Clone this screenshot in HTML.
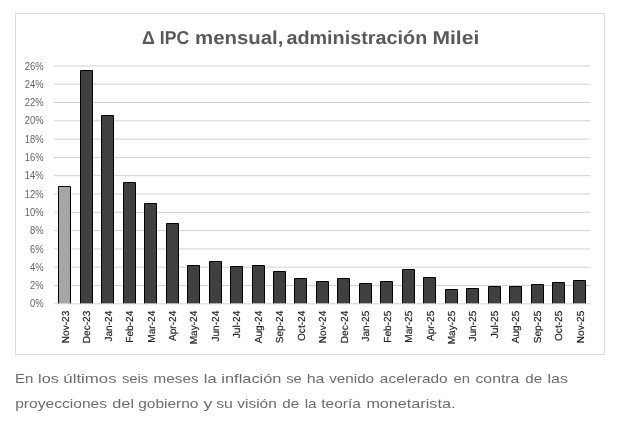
<!DOCTYPE html>
<html lang="es"><head><meta charset="utf-8"><title>IPC mensual</title>
<style>
html,body{margin:0;padding:0;background:#fff;}
body{width:618px;height:422px;position:relative;overflow:hidden;font-family:"Liberation Sans",sans-serif;}
.ax{font-family:"Liberation Sans",sans-serif;font-size:10px;fill:#636363;}
.cat{font-family:"Liberation Sans",sans-serif;font-size:10.2px;fill:#222;stroke:#222;stroke-width:0.15px;text-rendering:geometricPrecision;}
.title{font-family:"Liberation Sans",sans-serif;font-size:18.7px;font-weight:bold;fill:#595959;text-rendering:geometricPrecision;}
.cap{font-family:"Liberation Sans",sans-serif;font-size:13.5px;fill:#6c6c6c;}
</style></head><body>
<svg width="618" height="422" viewBox="0 0 618 422" style="position:absolute;left:0;top:0">
<rect x="15.5" y="13.5" width="589" height="341" fill="#fff" stroke="#d9d9d9" stroke-width="1"/>
<line x1="54.0" x2="590.5" y1="303.80" y2="303.80" stroke="#d2d2d2" stroke-width="1"/>
<text transform="translate(43.5,307.40) scale(0.94,1)" text-anchor="end" class="ax">0%</text>
<line x1="54.0" x2="590.5" y1="285.50" y2="285.50" stroke="#d2d2d2" stroke-width="1"/>
<text transform="translate(43.5,289.10) scale(0.94,1)" text-anchor="end" class="ax">2%</text>
<line x1="54.0" x2="590.5" y1="267.20" y2="267.20" stroke="#d2d2d2" stroke-width="1"/>
<text transform="translate(43.5,270.80) scale(0.94,1)" text-anchor="end" class="ax">4%</text>
<line x1="54.0" x2="590.5" y1="248.90" y2="248.90" stroke="#d2d2d2" stroke-width="1"/>
<text transform="translate(43.5,252.50) scale(0.94,1)" text-anchor="end" class="ax">6%</text>
<line x1="54.0" x2="590.5" y1="230.60" y2="230.60" stroke="#d2d2d2" stroke-width="1"/>
<text transform="translate(43.5,234.20) scale(0.94,1)" text-anchor="end" class="ax">8%</text>
<line x1="54.0" x2="590.5" y1="212.30" y2="212.30" stroke="#d2d2d2" stroke-width="1"/>
<text transform="translate(43.5,215.90) scale(0.94,1)" text-anchor="end" class="ax">10%</text>
<line x1="54.0" x2="590.5" y1="194.00" y2="194.00" stroke="#d2d2d2" stroke-width="1"/>
<text transform="translate(43.5,197.60) scale(0.94,1)" text-anchor="end" class="ax">12%</text>
<line x1="54.0" x2="590.5" y1="175.70" y2="175.70" stroke="#d2d2d2" stroke-width="1"/>
<text transform="translate(43.5,179.30) scale(0.94,1)" text-anchor="end" class="ax">14%</text>
<line x1="54.0" x2="590.5" y1="157.40" y2="157.40" stroke="#d2d2d2" stroke-width="1"/>
<text transform="translate(43.5,161.00) scale(0.94,1)" text-anchor="end" class="ax">16%</text>
<line x1="54.0" x2="590.5" y1="139.10" y2="139.10" stroke="#d2d2d2" stroke-width="1"/>
<text transform="translate(43.5,142.70) scale(0.94,1)" text-anchor="end" class="ax">18%</text>
<line x1="54.0" x2="590.5" y1="120.80" y2="120.80" stroke="#d2d2d2" stroke-width="1"/>
<text transform="translate(43.5,124.40) scale(0.94,1)" text-anchor="end" class="ax">20%</text>
<line x1="54.0" x2="590.5" y1="102.50" y2="102.50" stroke="#d2d2d2" stroke-width="1"/>
<text transform="translate(43.5,106.10) scale(0.94,1)" text-anchor="end" class="ax">22%</text>
<line x1="54.0" x2="590.5" y1="84.20" y2="84.20" stroke="#d2d2d2" stroke-width="1"/>
<text transform="translate(43.5,87.80) scale(0.94,1)" text-anchor="end" class="ax">24%</text>
<line x1="54.0" x2="590.5" y1="65.90" y2="65.90" stroke="#d2d2d2" stroke-width="1"/>
<text transform="translate(43.5,69.50) scale(0.94,1)" text-anchor="end" class="ax">26%</text>
<rect x="58.50" y="186.50" width="12" height="116.80" fill="#a6a6a6"/>
<path d="M58.50 303.30V186.50H70.50V303.30" fill="none" stroke="#000" stroke-width="1"/>
<text transform="translate(68.73,310.7) rotate(-90) scale(0.99,1)" text-anchor="end" class="cat">Nov-23</text>
<rect x="80.50" y="70.50" width="12" height="232.80" fill="#404040"/>
<path d="M80.50 303.30V70.50H92.50V303.30" fill="none" stroke="#000" stroke-width="1"/>
<text transform="translate(90.19,310.7) rotate(-90) scale(0.99,1)" text-anchor="end" class="cat">Dec-23</text>
<rect x="101.50" y="115.50" width="12" height="187.80" fill="#404040"/>
<path d="M101.50 303.30V115.50H113.50V303.30" fill="none" stroke="#000" stroke-width="1"/>
<text transform="translate(111.65,310.7) rotate(-90) scale(0.99,1)" text-anchor="end" class="cat">Jan-24</text>
<rect x="123.50" y="182.50" width="12" height="120.80" fill="#404040"/>
<path d="M123.50 303.30V182.50H135.50V303.30" fill="none" stroke="#000" stroke-width="1"/>
<text transform="translate(133.11,310.7) rotate(-90) scale(0.99,1)" text-anchor="end" class="cat">Feb-24</text>
<rect x="144.50" y="203.50" width="12" height="99.80" fill="#404040"/>
<path d="M144.50 303.30V203.50H156.50V303.30" fill="none" stroke="#000" stroke-width="1"/>
<text transform="translate(154.57,310.7) rotate(-90) scale(0.99,1)" text-anchor="end" class="cat">Mar-24</text>
<rect x="166.50" y="223.50" width="12" height="79.80" fill="#404040"/>
<path d="M166.50 303.30V223.50H178.50V303.30" fill="none" stroke="#000" stroke-width="1"/>
<text transform="translate(176.03,310.7) rotate(-90) scale(0.99,1)" text-anchor="end" class="cat">Apr-24</text>
<rect x="187.50" y="265.50" width="12" height="37.80" fill="#404040"/>
<path d="M187.50 303.30V265.50H199.50V303.30" fill="none" stroke="#000" stroke-width="1"/>
<text transform="translate(197.49,310.7) rotate(-90) scale(0.99,1)" text-anchor="end" class="cat">May-24</text>
<rect x="209.50" y="261.50" width="12" height="41.80" fill="#404040"/>
<path d="M209.50 303.30V261.50H221.50V303.30" fill="none" stroke="#000" stroke-width="1"/>
<text transform="translate(218.95,310.7) rotate(-90) scale(0.99,1)" text-anchor="end" class="cat">Jun-24</text>
<rect x="230.50" y="266.50" width="12" height="36.80" fill="#404040"/>
<path d="M230.50 303.30V266.50H242.50V303.30" fill="none" stroke="#000" stroke-width="1"/>
<text transform="translate(240.41,310.7) rotate(-90) scale(0.99,1)" text-anchor="end" class="cat">Jul-24</text>
<rect x="252.50" y="265.50" width="12" height="37.80" fill="#404040"/>
<path d="M252.50 303.30V265.50H264.50V303.30" fill="none" stroke="#000" stroke-width="1"/>
<text transform="translate(261.87,310.7) rotate(-90) scale(0.99,1)" text-anchor="end" class="cat">Aug-24</text>
<rect x="273.50" y="271.50" width="12" height="31.80" fill="#404040"/>
<path d="M273.50 303.30V271.50H285.50V303.30" fill="none" stroke="#000" stroke-width="1"/>
<text transform="translate(283.33,310.7) rotate(-90) scale(0.99,1)" text-anchor="end" class="cat">Sep-24</text>
<rect x="294.50" y="278.50" width="12" height="24.80" fill="#404040"/>
<path d="M294.50 303.30V278.50H306.50V303.30" fill="none" stroke="#000" stroke-width="1"/>
<text transform="translate(304.79,310.7) rotate(-90) scale(0.99,1)" text-anchor="end" class="cat">Oct-24</text>
<rect x="316.50" y="281.50" width="12" height="21.80" fill="#404040"/>
<path d="M316.50 303.30V281.50H328.50V303.30" fill="none" stroke="#000" stroke-width="1"/>
<text transform="translate(326.25,310.7) rotate(-90) scale(0.99,1)" text-anchor="end" class="cat">Nov-24</text>
<rect x="337.50" y="278.50" width="12" height="24.80" fill="#404040"/>
<path d="M337.50 303.30V278.50H349.50V303.30" fill="none" stroke="#000" stroke-width="1"/>
<text transform="translate(347.71,310.7) rotate(-90) scale(0.99,1)" text-anchor="end" class="cat">Dec-24</text>
<rect x="359.50" y="283.50" width="12" height="19.80" fill="#404040"/>
<path d="M359.50 303.30V283.50H371.50V303.30" fill="none" stroke="#000" stroke-width="1"/>
<text transform="translate(369.17,310.7) rotate(-90) scale(0.99,1)" text-anchor="end" class="cat">Jan-25</text>
<rect x="380.50" y="281.50" width="12" height="21.80" fill="#404040"/>
<path d="M380.50 303.30V281.50H392.50V303.30" fill="none" stroke="#000" stroke-width="1"/>
<text transform="translate(390.63,310.7) rotate(-90) scale(0.99,1)" text-anchor="end" class="cat">Feb-25</text>
<rect x="402.50" y="269.50" width="12" height="33.80" fill="#404040"/>
<path d="M402.50 303.30V269.50H414.50V303.30" fill="none" stroke="#000" stroke-width="1"/>
<text transform="translate(412.09,310.7) rotate(-90) scale(0.99,1)" text-anchor="end" class="cat">Mar-25</text>
<rect x="423.50" y="277.50" width="12" height="25.80" fill="#404040"/>
<path d="M423.50 303.30V277.50H435.50V303.30" fill="none" stroke="#000" stroke-width="1"/>
<text transform="translate(433.55,310.7) rotate(-90) scale(0.99,1)" text-anchor="end" class="cat">Apr-25</text>
<rect x="445.50" y="289.50" width="12" height="13.80" fill="#404040"/>
<path d="M445.50 303.30V289.50H457.50V303.30" fill="none" stroke="#000" stroke-width="1"/>
<text transform="translate(455.01,310.7) rotate(-90) scale(0.99,1)" text-anchor="end" class="cat">May-25</text>
<rect x="466.50" y="288.50" width="12" height="14.80" fill="#404040"/>
<path d="M466.50 303.30V288.50H478.50V303.30" fill="none" stroke="#000" stroke-width="1"/>
<text transform="translate(476.47,310.7) rotate(-90) scale(0.99,1)" text-anchor="end" class="cat">Jun-25</text>
<rect x="488.50" y="286.50" width="12" height="16.80" fill="#404040"/>
<path d="M488.50 303.30V286.50H500.50V303.30" fill="none" stroke="#000" stroke-width="1"/>
<text transform="translate(497.93,310.7) rotate(-90) scale(0.99,1)" text-anchor="end" class="cat">Jul-25</text>
<rect x="509.50" y="286.50" width="12" height="16.80" fill="#404040"/>
<path d="M509.50 303.30V286.50H521.50V303.30" fill="none" stroke="#000" stroke-width="1"/>
<text transform="translate(519.39,310.7) rotate(-90) scale(0.99,1)" text-anchor="end" class="cat">Aug-25</text>
<rect x="531.50" y="284.50" width="12" height="18.80" fill="#404040"/>
<path d="M531.50 303.30V284.50H543.50V303.30" fill="none" stroke="#000" stroke-width="1"/>
<text transform="translate(540.85,310.7) rotate(-90) scale(0.99,1)" text-anchor="end" class="cat">Sep-25</text>
<rect x="552.50" y="282.50" width="12" height="20.80" fill="#404040"/>
<path d="M552.50 303.30V282.50H564.50V303.30" fill="none" stroke="#000" stroke-width="1"/>
<text transform="translate(562.31,310.7) rotate(-90) scale(0.99,1)" text-anchor="end" class="cat">Oct-25</text>
<rect x="573.50" y="280.50" width="12" height="22.80" fill="#404040"/>
<path d="M573.50 303.30V280.50H585.50V303.30" fill="none" stroke="#000" stroke-width="1"/>
<text transform="translate(583.77,310.7) rotate(-90) scale(0.99,1)" text-anchor="end" class="cat">Nov-25</text>
<text y="44.2" class="title"><tspan x="142.00" textLength="12.90" lengthAdjust="spacingAndGlyphs">Δ</tspan> <tspan x="159.82" textLength="29.30" lengthAdjust="spacingAndGlyphs">IPC</tspan> <tspan x="195.10" textLength="88.36" lengthAdjust="spacingAndGlyphs">mensual,</tspan> <tspan x="286.40" textLength="140.89" lengthAdjust="spacingAndGlyphs">administración</tspan> <tspan x="432.48" textLength="46.77" lengthAdjust="spacingAndGlyphs">Milei</tspan></text>
<text y="382.8" class="cap"><tspan x="14.94" textLength="18.43" lengthAdjust="spacingAndGlyphs">En</tspan> <tspan x="38.10" textLength="20.73" lengthAdjust="spacingAndGlyphs">los</tspan> <tspan x="63.33" textLength="53.22" lengthAdjust="spacingAndGlyphs">últimos</tspan> <tspan x="121.92" textLength="26.35" lengthAdjust="spacingAndGlyphs">seis</tspan> <tspan x="153.60" textLength="44.94" lengthAdjust="spacingAndGlyphs">meses</tspan> <tspan x="203.89" textLength="12.79" lengthAdjust="spacingAndGlyphs">la</tspan> <tspan x="221.35" textLength="60.07" lengthAdjust="spacingAndGlyphs">inflación</tspan> <tspan x="286.21" textLength="15.59" lengthAdjust="spacingAndGlyphs">se</tspan> <tspan x="306.68" textLength="17.76" lengthAdjust="spacingAndGlyphs">ha</tspan> <tspan x="329.26" textLength="44.83" lengthAdjust="spacingAndGlyphs">venido</tspan> <tspan x="379.88" textLength="67.83" lengthAdjust="spacingAndGlyphs">acelerado</tspan> <tspan x="453.63" textLength="16.43" lengthAdjust="spacingAndGlyphs">en</tspan> <tspan x="475.49" textLength="43.82" lengthAdjust="spacingAndGlyphs">contra</tspan> <tspan x="525.27" textLength="16.89" lengthAdjust="spacingAndGlyphs">de</tspan> <tspan x="547.55" textLength="20.41" lengthAdjust="spacingAndGlyphs">las</tspan></text>
<text y="407.8" class="cap"><tspan x="15.18" textLength="91.90" lengthAdjust="spacingAndGlyphs">proyecciones</tspan> <tspan x="112.31" textLength="21.74" lengthAdjust="spacingAndGlyphs">del</tspan> <tspan x="138.23" textLength="60.27" lengthAdjust="spacingAndGlyphs">gobierno</tspan> <tspan x="203.57" textLength="8.91" lengthAdjust="spacingAndGlyphs">y</tspan> <tspan x="216.16" textLength="16.72" lengthAdjust="spacingAndGlyphs">su</tspan> <tspan x="237.25" textLength="39.52" lengthAdjust="spacingAndGlyphs">visión</tspan> <tspan x="282.24" textLength="16.96" lengthAdjust="spacingAndGlyphs">de</tspan> <tspan x="304.68" textLength="11.96" lengthAdjust="spacingAndGlyphs">la</tspan> <tspan x="321.34" textLength="39.54" lengthAdjust="spacingAndGlyphs">teoría</tspan> <tspan x="366.40" textLength="89.01" lengthAdjust="spacingAndGlyphs">monetarista.</tspan></text>
</svg>
</body></html>
